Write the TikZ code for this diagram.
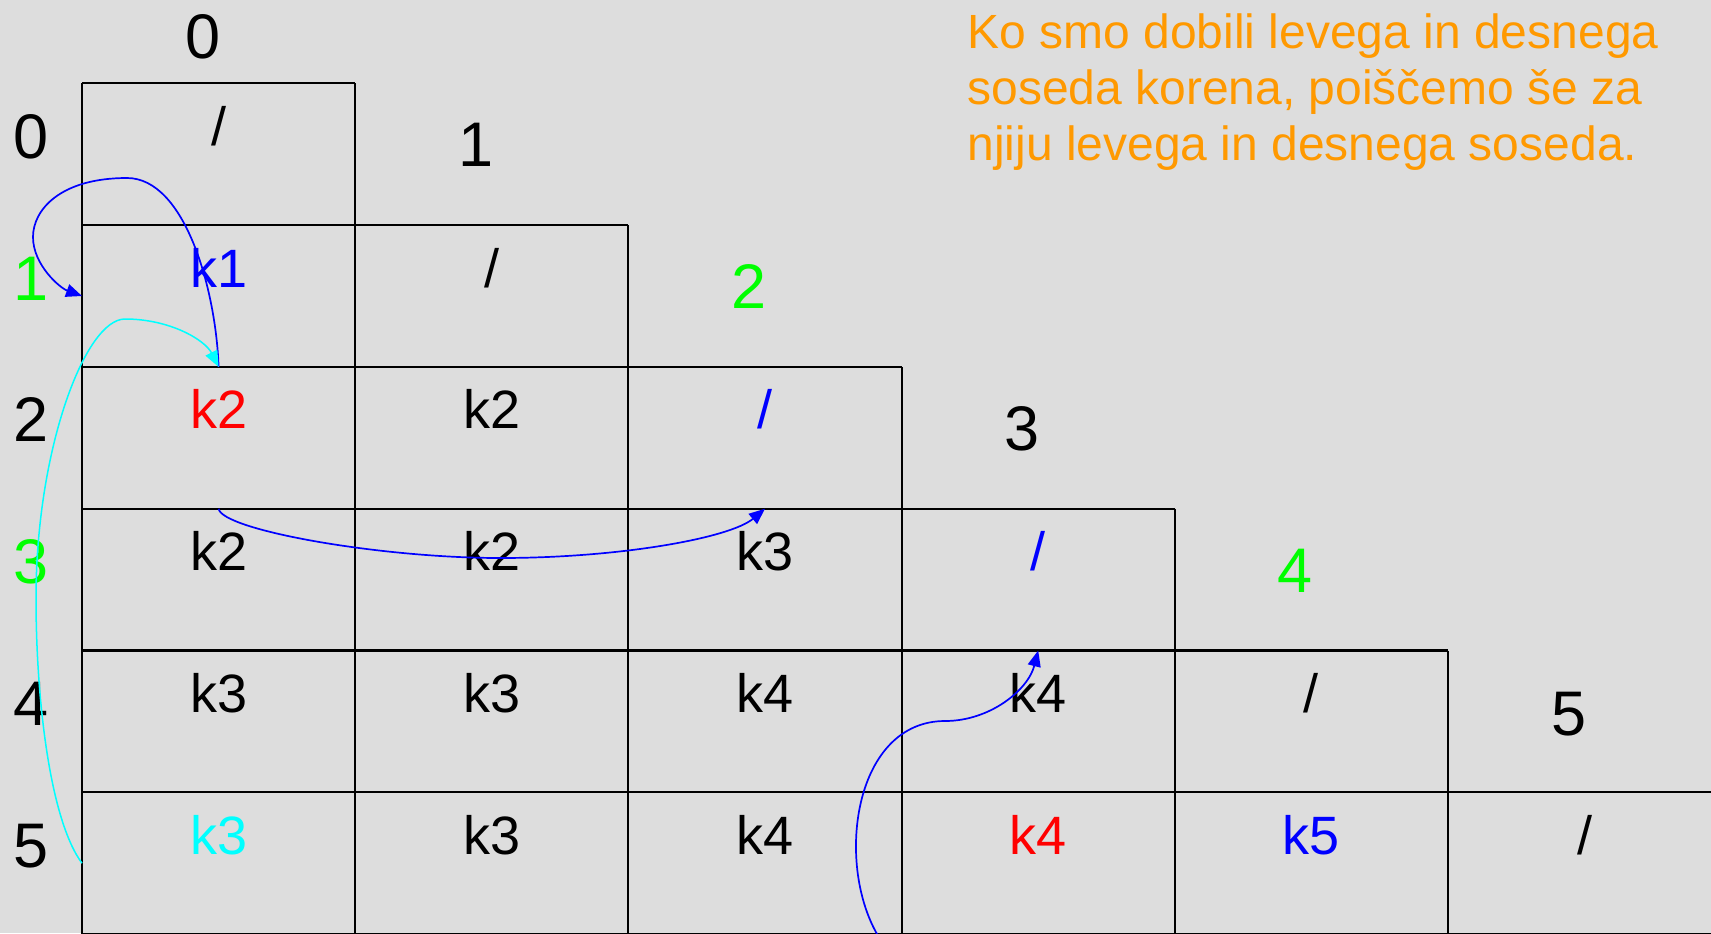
\documentclass[tikz,border=0pt]{standalone}
\usepackage{fontspec}
\setmainfont{Liberation Sans}
\usetikzlibrary{arrows.meta,calc}
\definecolor{bg}{HTML}{DDDDDD}
\definecolor{lgreen}{HTML}{00FF00}
\definecolor{lblue}{HTML}{0000FF}
\definecolor{lred}{HTML}{FF0000}
\definecolor{lcyan}{HTML}{00FFFF}
\definecolor{lorange}{HTML}{FF9900}
\begin{document}
\begin{tikzpicture}[x=0.5pt,y=-0.5pt,
  cell/.style={minimum width=136.6pt,minimum height=70.9pt,inner sep=0pt,outer sep=0pt},
  rule/.style={draw=black,line width=1.05pt},
  celltxt/.style={anchor=base,inner sep=0pt,font=\fontsize{27}{30}\selectfont},
  lbl/.style={anchor=base,inner sep=0pt,font=\fontsize{31.5}{34}\selectfont},
  link/.style={line width=0.85pt,-{Triangle[length=8pt,width=6.5pt]}},
]
\useasboundingbox (0,0) rectangle (1711,933);
\fill[bg] (0,0) rectangle (1711,933);

% staircase table: row i has cells 0..i
\foreach \i in {0,...,5}{
  \foreach \j in {0,...,\i}{
    \node[cell] (c-\i-\j) at ({218.6+273.2*\j},{154.2+141.8*\i}) {};
  }
}
\begin{scope}
  \clip (0,0) rectangle (1711,933);
  \draw[rule] (c-0-0.north west) -- (c-5-0.south west);
  \foreach \j in {0,...,5}{
    \draw[rule] (c-\j-\j.north east) -- (c-5-\j.south east);
    \draw[rule] (c-\j-0.north west) -- (c-\j-\j.north east);
  }
  \draw[rule] (c-5-0.south west) -- (c-5-5.south east);
\end{scope}

% cell contents
\node[celltxt] (t-0-0) at ($(c-0-0.north)+(0,62)$) {/};
\node[celltxt,text=lblue] (t-1-0) at ($(c-1-0.north)+(0,62)$) {k1};
\node[celltxt] (t-1-1) at ($(c-1-1.north)+(0,62)$) {/};
\node[celltxt,text=lred] (t-2-0) at ($(c-2-0.north)+(0,62)$) {k2};
\node[celltxt] (t-2-1) at ($(c-2-1.north)+(0,62)$) {k2};
\node[celltxt,text=lblue] (t-2-2) at ($(c-2-2.north)+(0,62)$) {/};
\node[celltxt] (t-3-0) at ($(c-3-0.north)+(0,62)$) {k2};
\node[celltxt] (t-3-1) at ($(c-3-1.north)+(0,62)$) {k2};
\node[celltxt] (t-3-2) at ($(c-3-2.north)+(0,62)$) {k3};
\node[celltxt,text=lblue] (t-3-3) at ($(c-3-3.north)+(0,62)$) {/};
\node[celltxt] (t-4-0) at ($(c-4-0.north)+(0,62)$) {k3};
\node[celltxt] (t-4-1) at ($(c-4-1.north)+(0,62)$) {k3};
\node[celltxt] (t-4-2) at ($(c-4-2.north)+(0,62)$) {k4};
\node[celltxt] (t-4-3) at ($(c-4-3.north)+(0,62)$) {k4};
\node[celltxt] (t-4-4) at ($(c-4-4.north)+(0,62)$) {/};
\node[celltxt,text=lcyan] (t-5-0) at ($(c-5-0.north)+(0,62)$) {k3};
\node[celltxt] (t-5-1) at ($(c-5-1.north)+(0,62)$) {k3};
\node[celltxt] (t-5-2) at ($(c-5-2.north)+(0,62)$) {k4};
\node[celltxt,text=lred] (t-5-3) at ($(c-5-3.north)+(0,62)$) {k4};
\node[celltxt,text=lblue] (t-5-4) at ($(c-5-4.north)+(0,62)$) {k5};
\node[celltxt] (t-5-5) at ($(c-5-5.north)+(0,62)$) {/};

% column indices
\node[lbl] (h-0) at (203,58.3) {0};
\node[lbl] (h-1) at (475.8,166.8) {1};
\node[lbl,text=lgreen] (h-2) at (749,308.6) {2};
\node[lbl] (h-3) at (1022.2,450.4) {3};
\node[lbl,text=lgreen] (h-4) at (1295.4,592.2) {4};
\node[lbl] (h-5) at (1568.6,735) {5};

% row indices
\node[lbl] (r-0) at ($(c-0-0.north west)+(-51,75)$) {0};
\node[lbl,text=lgreen] (r-1) at ($(c-1-0.north west)+(-51,75)$) {1};
\node[lbl] (r-2) at ($(c-2-0.north west)+(-51,75)$) {2};
\node[lbl,text=lgreen] (r-3) at ($(c-3-0.north west)+(-51,75)$) {3};
\node[lbl] (r-4) at ($(c-4-0.north west)+(-51,75)$) {4};
\node[lbl] (r-5) at ($(c-5-0.north west)+(-51,75)$) {5};

% explanation
\node[anchor=north west,inner sep=0pt,align=left,text=lorange,
      font=\fontsize{24}{28}\selectfont] (note) at (967,13)
  {Ko smo dobili levega in desnega\\soseda korena, poiščemo še za\\njiju levega in desnega soseda.};

% neighbour links
\coordinate (s4) at (877,934);
\draw[link,lblue] (c-2-0.north) .. controls (216,290) and (185,178) .. (127,178)
  .. controls (60,178) and (33,210) .. (33,237)
  .. controls (33,265) and (60,288) .. (c-1-0.west);
\draw[link,lcyan,line width=0.75pt] (c-5-0.west) .. controls (50,820) and (36,700) .. (36,598)
  .. controls (36,450) and (85,319) .. (125,319)
  .. controls (170,319) and (205,340) .. (c-2-0.north);
\draw[link,lblue] (c-3-0.north) .. controls (222,530) and (380,558) .. (500,558)
  .. controls (620,558) and (730,538) .. (c-3-2.north);
\draw[link,lblue] (s4) .. controls (835,860) and (855,721) .. (945,721)
  .. controls (990,721) and (1028,690) .. (c-4-3.north);
\end{tikzpicture}
\end{document}
